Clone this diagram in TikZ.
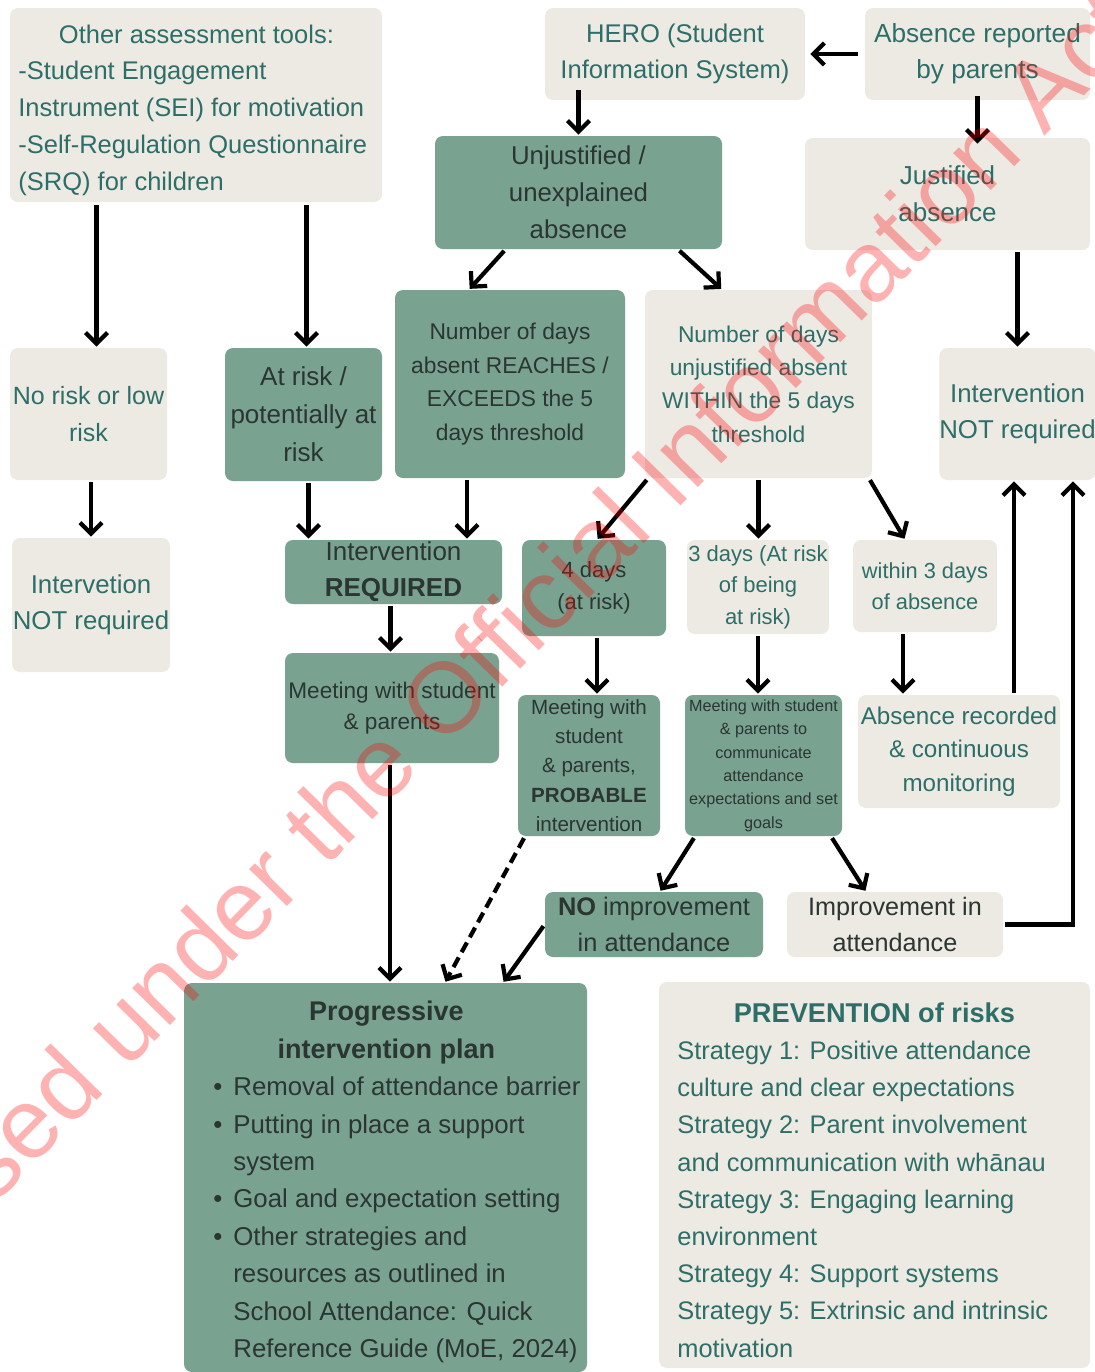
\documentclass[tikz,border=0pt]{standalone}
\usepackage{fontspec}
\setmainfont{Liberation Sans}
\usetikzlibrary{arrows.meta}
\definecolor{gfill}{HTML}{79A390}
\definecolor{bfill}{HTML}{EDEAE4}
\definecolor{gtext}{HTML}{2B3532}
\definecolor{btext}{HTML}{2E6E68}
\newcommand\fz[2]{\fontsize{#1pt}{#2pt}\selectfont}
\newcommand\mybox[7]{%
 \pgfmathsetmacro\bxcx{(#3+#5)/2}%
 \pgfmathsetmacro\bxcy{(#4+#6)/2}%
 \pgfmathsetmacro\bxw{(#5-#3)*0.5}%
 \pgfmathsetmacro\bxh{(#6-#4)*0.5}%
 \node[#2, minimum width=\bxw pt, minimum height=\bxh pt] (#1) at (\bxcx,\bxcy) {#7};}
\tikzset{
 gbox/.style={fill=gfill, rounded corners=4pt, inner sep=0pt, align=center, text=gtext},
 bbox/.style={fill=bfill, rounded corners=4pt, inner sep=0pt, align=center, text=btext},
 arr/.style={line width=2.1pt, -{Straight Barb[length=5.5pt,width=11pt]}, shorten <=1pt, shorten >=0.5pt},
 dasharr/.style={arr, dash pattern=on 5.5pt off 3pt},
 plaintext/.style={anchor=west, align=left, inner sep=0pt},
}
\begin{document}
\begin{tikzpicture}[x=0.5pt,y=-0.5pt]
\useasboundingbox (0,0) rectangle (1095,1372);
\fill[white] (0,0) rectangle (1095,1372);

% boxes
\mybox{tools}{bbox}{10}{8}{382}{202}{}
\node[plaintext, text=btext, font=\fz{12.75}{18.4}] (toolst) at (18,110) {\makebox[178pt][c]{Other assessment tools:}\\-Student Engagement\\Instrument (SEI) for motivation\\-Self-Regulation Questionnaire\\(SRQ) for children};
\mybox{hero}{bbox, font=\fz{12.8}{18}}{545}{8}{805}{100}{HERO (Student\\Information System)}
\mybox{absrep}{bbox, font=\fz{13.1}{18}}{865}{8}{1090}{100}{Absence reported\\by parents}
\mybox{unj}{gbox, font=\fz{12.9}{18.5}}{435}{136}{722}{249}{Unjustified /\\unexplained\\absence}
\mybox{just}{bbox, font=\fz{13}{18.5}}{805}{138}{1090}{250}{Justified\\absence}
\mybox{norisk}{bbox, font=\fz{12.5}{18.5}}{10}{348}{167}{480}{No risk or low\\risk}
\mybox{atrisk}{gbox, font=\fz{13}{19}}{225}{348}{382}{481}{At risk /\\potentially at\\risk}
\mybox{reach}{gbox, font=\fz{11.4}{16.7}}{395}{290}{625}{478}{Number of days\\absent REACHES /\\EXCEEDS the 5\\days threshold}
\mybox{within}{bbox, font=\fz{11.4}{16.7}}{645}{290}{872}{478}{Number of days\\unjustified absent\\WITHIN the 5 days\\threshold}
\mybox{notreqR}{bbox, font=\fz{12.9}{18}}{940}{348}{1095}{480}{Intervention\\NOT required}
\mybox{notreqL}{bbox, font=\fz{12.9}{18}}{12}{538}{170}{672}{Intervetion\\NOT required}
\mybox{intreq}{gbox, font=\fz{13}{18}}{285}{540}{502}{604}{Intervention\\\textbf{REQUIRED}}
\mybox{dfour}{gbox, font=\fz{11}{16}}{522}{540}{666}{636}{4 days\\(at risk)}
\mybox{dthree}{bbox, font=\fz{11}{15.7}}{687}{540}{829}{634}{3 days (At risk\\of being\\at risk)}
\mybox{wthree}{bbox, font=\fz{10.9}{15.5}}{853}{540}{997}{632}{within 3 days\\of absence}
\mybox{meetA}{gbox, font=\fz{11.3}{15.5}}{285}{653}{499}{763}{Meeting with student\\\& parents}
\mybox{meetP}{gbox, font=\fz{10.3}{14.7}}{518}{695}{660}{836}{Meeting with\\student\\\& parents,\\\textbf{PROBABLE}\\intervention}
\mybox{meetG}{gbox, font=\fz{8.1}{11.7}}{685}{695}{842}{836}{Meeting with student\\\& parents to\\communicate\\attendance\\expectations and set\\goals}
\mybox{absrec}{bbox, font=\fz{12.1}{16.7}}{858}{695}{1060}{808}{Absence recorded\\\& continuous\\monitoring}
\mybox{noimp}{gbox, font=\fz{12.7}{18}}{545}{892}{763}{957}{\textbf{NO} improvement\\in attendance}
\mybox{imp}{bbox, text=gtext, font=\fz{12.6}{18}}{787}{892}{1003}{957}{Improvement in\\attendance}
\mybox{prog}{gbox}{184}{983}{587}{1372}{}
\mybox{prev}{bbox}{659}{982}{1090}{1368}{}

\node[plaintext, text=gtext, font=\fz{12.9}{18.7}] (progt) at (213,1182) {%
\makebox[173pt][c]{\bfseries\fz{13.5}{18.7}Progressive}\\
\makebox[173pt][c]{\bfseries\fz{13.5}{18.7}intervention plan}\\
\makebox[10pt][l]{\textbullet}Removal of attendance barrier\\
\makebox[10pt][l]{\textbullet}Putting in place a support\\
\hspace*{10pt}system\\
\makebox[10pt][l]{\textbullet}Goal and expectation setting\\
\makebox[10pt][l]{\textbullet}Other strategies and\\
\hspace*{10pt}resources as outlined in\\
\hspace*{10pt}School Attendance: Quick\\
\hspace*{10pt}Reference Guide (MoE, 2024)};

\node[plaintext, text=btext, font=\fz{12.7}{18.6}] (prevt) at (677,1180) {%
\makebox[197pt][c]{\bfseries\fz{13.6}{18.6}PREVENTION of risks}\\
Strategy 1: Positive attendance\\
culture and clear expectations\\
Strategy 2: Parent involvement\\
and communication with whānau\\
Strategy 3: Engaging learning\\
environment\\
Strategy 4: Support systems\\
Strategy 5: Extrinsic and intrinsic\\
motivation};

% connectors
\draw[arr, shorten <=3.5pt, shorten >=2.5pt] (absrep.west) -- (hero.east);
\draw[arr, shorten <=-5pt] (unj.north |- hero.south) -- (unj.north);
\draw[arr, shorten <=-2pt, shorten >=-3pt] (absrep.south) -- (absrep.south |- just.north);
\draw[arr] ([xshift=-36.5pt]unj.south) -- ([xshift=-20.5pt]reach.north);
\draw[arr] ([xshift=49.75pt]unj.south) -- ([xshift=-18.25pt]reach.north -| within.north);
\draw[arr, shorten <=1.5pt] ([xshift=4pt]norisk.north |- tools.south) -- ([xshift=4pt]norisk.north);
\draw[arr, shorten <=1.5pt] ([xshift=1.5pt]atrisk.north |- tools.south) -- ([xshift=1.5pt]atrisk.north);
\draw[arr] (notreqR.north |- just.south) -- (notreqR.north);
\draw[arr] (notreqL.north |- norisk.south) -- (notreqL.north);
\draw[arr] ([xshift=2.5pt]atrisk.south) -- ([xshift=2.5pt]atrisk.south |- intreq.north);
\draw[arr] ([xshift=36.75pt]intreq.north |- reach.south) -- ([xshift=36.75pt]intreq.north);
\draw[arr] ([xshift=-55.25pt]within.south) -- ([xshift=1.5pt]dfour.north);
\draw[arr] (within.south) -- (within.south |- dthree.north);
\draw[arr] ([xshift=55.25pt]within.south) -- ([xshift=-10pt]wthree.north);
\draw[arr] ([xshift=-1.5pt]intreq.south) -- ([xshift=-1.5pt]intreq.south |- meetA.north);
\draw[arr] ([xshift=1.5pt]dfour.south) -- ([xshift=1.5pt]dfour.south |- meetP.north);
\draw[arr] (dthree.south) -- (dthree.south |- meetG.north);
\draw[arr] ([xshift=-11pt]wthree.south) -- ([xshift=-11pt]wthree.south |- absrec.north);
\draw[arr] ([xshift=-1pt]meetA.south) -- ([xshift=-1pt]meetA.south |- prog.north);
\draw[dasharr] ([xshift=-32pt]meetP.south) -- ([xshift=29.75pt]prog.north);
\draw[arr] (noimp.west) -- ([xshift=58.75pt]prog.north);
\draw[arr] ([xshift=-34.25pt]meetG.south) -- ([xshift=3pt]noimp.north);
\draw[arr] ([xshift=33.75pt]meetG.south) -- ([xshift=-14.5pt]imp.north);
\draw[arr] ([xshift=27.5pt]absrec.north) -- ([xshift=27.5pt]absrec.north |- notreqR.south);
\coordinate (rightbus) at (1073,0);
\draw[arr, line join=miter] (imp.east) -- (imp.east -| rightbus) -- (rightbus |- notreqR.south);

% watermark
\begin{scope}
\clip (0,0) rectangle (1095,1372);
\node[rotate=45.5, text=red, opacity=0.3, font=\fz{50}{60}, inner sep=0pt] (wmark) at (453,687) {Released under the Official Information Act};
\end{scope}
\end{tikzpicture}
\end{document}
